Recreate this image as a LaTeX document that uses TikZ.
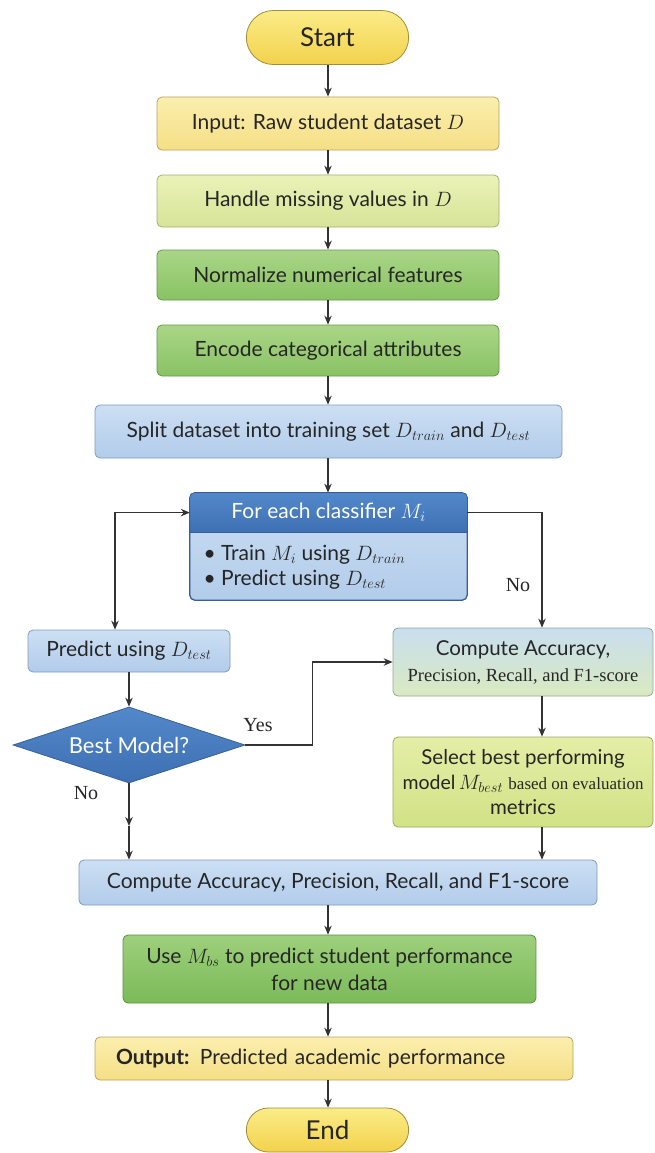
\documentclass[tikz,border=0pt]{standalone}
\usepackage{fontspec}
\setmainfont{Lato}
\newfontfamily\seriffont{Liberation Serif}
\usetikzlibrary{arrows.meta,shapes.geometric,shapes.misc,calc}

\definecolor{linegray}{HTML}{333333}
\definecolor{termtop}{HTML}{FBEC88}\definecolor{termbot}{HTML}{F2D24C}\definecolor{termline}{HTML}{A38C3C}
\definecolor{inputtop}{HTML}{FBEFAE}\definecolor{inputbot}{HTML}{F5DF86}\definecolor{inputline}{HTML}{B5A265}
\definecolor{cleantop}{HTML}{EBF2B8}\definecolor{cleanbot}{HTML}{D6E497}\definecolor{cleanline}{HTML}{A3AE6E}
\definecolor{greentop}{HTML}{AAD687}\definecolor{greenbot}{HTML}{89C264}\definecolor{greenline}{HTML}{66964C}
\definecolor{bluetop}{HTML}{CCDFF4}\definecolor{bluebot}{HTML}{B2CCEA}\definecolor{blueline}{HTML}{7F9BBE}
\definecolor{headtop}{HTML}{5289CB}\definecolor{headbot}{HTML}{3E6FB3}\definecolor{headline}{HTML}{3A5F96}
\definecolor{evaltop}{HTML}{C9DEF0}\definecolor{evalbot}{HTML}{D9EAC0}\definecolor{evalline}{HTML}{8FA79A}
\definecolor{selecttop}{HTML}{E4EEA6}\definecolor{selectbot}{HTML}{D2E286}\definecolor{selectline}{HTML}{9AA860}
\definecolor{usetop}{HTML}{9DD07B}\definecolor{usebot}{HTML}{7CBA59}\definecolor{useline}{HTML}{5C9045}

\tikzset{
    procbox/.style n args={3}{rectangle, rounded corners=5pt, top color=#1, bottom color=#2,
        draw=#3, line width=0.8pt, text=black!85, inner sep=3pt,
        font=\fontsize{21}{27}\selectfont, align=center},
    termbox/.style={rounded rectangle, top color=termtop, bottom color=termbot, draw=termline,
        line width=0.8pt, minimum width=169pt, minimum height=54pt, text=black!85,
        font=\fontsize{26}{30}\selectfont},
    decbox/.style={diamond, aspect=3.05, inner sep=0pt, minimum width=232pt, minimum height=76pt,
        top color=headtop, bottom color=headbot, draw=headline, line width=0.8pt, text=white,
        font=\fontsize{22}{26}\selectfont},
    flow/.style={draw=linegray, line width=1.1pt, ->},
    lbl/.style={font=\seriffont\fontsize{20}{22}\selectfont, text=black!85},
}

\begin{document}
\begin{tikzpicture}[x=1pt,y=-1pt,>={Stealth[length=9pt,width=7.5pt]}]
    \useasboundingbox (0,0) rectangle (655,1153);
    %% Columns for the connectors
    \coordinate (mcol) at (328,0);
    \coordinate (lcol) at (115,0);
    \coordinate (rcol) at (542,0);
    %% Preprocessing
    \node[termbox] (start) at (327.5,37.5) {Start};
    \node[procbox={inputtop}{inputbot}{inputline}, minimum width=342pt, minimum height=53pt]
        (input) at (328,123.5) {Input: Raw student dataset $D$};
    \node[procbox={cleantop}{cleanbot}{cleanline}, minimum width=342pt, minimum height=52pt]
        (handle) at (328,201) {Handle missing values in $D$};
    \node[procbox={greentop}{greenbot}{greenline}, minimum width=342pt, minimum height=50pt]
        (norm) at (328,275) {Normalize numerical features};
    \node[procbox={greentop}{greenbot}{greenline}, minimum width=342pt, minimum height=51pt]
        (encode) at (328,350.5) {Encode categorical attributes};
    \node[procbox={bluetop}{bluebot}{blueline}, minimum width=467pt, minimum height=53pt]
        (split) at (328.5,431.5) {Split dataset into training set $D_{train}$ and $D_{test}$};
    %% Classifier loop
    \node[procbox={bluetop}{bluebot}{headline}, minimum width=277pt, minimum height=107pt]
        (loop) at (328.5,546.5) {};
    \begin{scope}
        \clip[rounded corners=5pt] (loop.north west) rectangle (loop.south east);
        \fill[top color=headtop, bottom color=headbot]
            (loop.north west) rectangle ($(loop.north east)+(0,40)$);
    \end{scope}
    \draw[headline, line width=0.8pt, rounded corners=5pt] (loop.north west) rectangle (loop.south east);
    \draw[headline, line width=0.8pt] ($(loop.north west)+(0,40)$) -- ($(loop.north east)+(0,40)$);
    \node[minimum width=277pt, minimum height=40pt, text=white, font=\fontsize{21}{24}\selectfont]
        (loophead) at ($(loop.north)+(0,20)$) {For each classifier $M_i$};
    \node[align=left, anchor=west, text=black!85, font=\fontsize{21}{25}\selectfont]
        (looptext) at (200,567)
        {\textbullet\ Train $M_i$ using $D_{train}$\\ \textbullet\ Predict using $D_{test}$};
    %% Left branch
    \node[procbox={bluetop}{bluebot}{blueline}, minimum width=202pt, minimum height=42pt]
        (predict) at (129,651) {Predict using $D_{test}$};
    \node[decbox] (best) at (129,745) {Best Model?};
    %% Right branch
    \node[procbox={evaltop}{evalbot}{evalline}, minimum width=260pt, minimum height=68pt,
        font=\fontsize{20.5}{26}\selectfont]
        (rcompute) at (523,662)
        {Compute Accuracy,\\ {\seriffont\fontsize{18.5}{26}\selectfont Precision, Recall, and F1-score}};
    \node[procbox={selecttop}{selectbot}{selectline}, minimum width=260pt, minimum height=90pt,
        font=\fontsize{20.5}{25}\selectfont]
        (select) at (523,782)
        {Select best performing\\ {\fontsize{19.5}{25}\selectfont model}\,$M_{best}$
        {\seriffont\fontsize{17}{25}\selectfont based on evaluation}\\ metrics};
    %% Final steps
    \node[procbox={bluetop}{bluebot}{blueline}, minimum width=518pt, minimum height=45pt]
        (bcompute) at (338,882.5) {Compute Accuracy, Precision, Recall, and F1-score};
    \node[procbox={usetop}{usebot}{useline}, minimum width=413pt, minimum height=68pt]
        (use) at (329.5,969) {Use $M_{bs}$ to predict student performance\\ for new data};
    \node[procbox={inputtop}{inputbot}{inputline}, minimum width=478pt, minimum height=43pt,
        text width=436pt, align=left]
        (output) at (334,1058.5) {\textbf{Output:} Predicted academic performance};
    \node[termbox, minimum height=44pt] (finish) at (327.5,1130) {End};
    %% Connectors
    \foreach \a/\b in {start/input,input/handle,handle/norm,norm/encode,encode/split,split/loop,
        bcompute/use,use/output,output/finish}
        \draw[flow] (\a.south -| mcol) -- (\b.north -| mcol);
    \draw[flow, <->] (predict.north -| lcol) |- (loophead.west);
    \draw[flow] (loophead.east) -| (rcompute.north -| rcol);
    \node[lbl] (noright) at (518,585) {No};
    \draw[flow] (predict.south) -- (best.north);
    \draw[flow] (best.east) -- ++(67,0) |- (rcompute.west);
    \node[lbl] (yes) at (258,725) {Yes};
    \coordinate (nomid) at (129,826);
    \draw[flow] (best.south) -- (nomid);
    \draw[flow] (nomid) -- (bcompute.north -| nomid);
    \node[lbl] (noleft) at (86,793) {No};
    \draw[flow] (rcompute.south -| rcol) -- (select.north -| rcol);
    \draw[flow] (select.south -| rcol) -- (bcompute.north -| rcol);
\end{tikzpicture}
\end{document}
